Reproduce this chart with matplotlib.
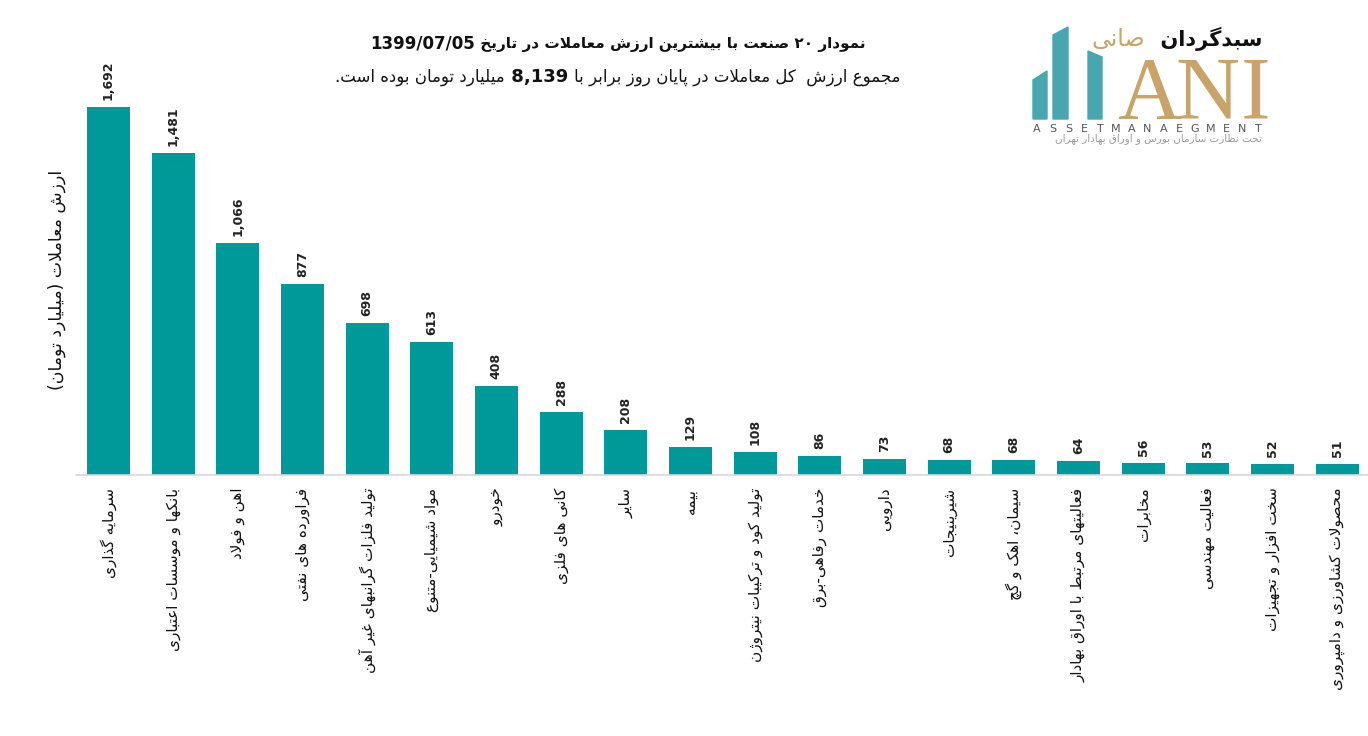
import re
import matplotlib
matplotlib.use("Agg")
import matplotlib.pyplot as plt
from matplotlib.patches import Polygon

# data
industries = [
    "سرمایه گذاری",
    "بانکها و موسسات اعتباری",
    "اهن و فولاد",
    "فراورده های نفتی",
    "تولید فلزات گرانبهای غیر آهن",
    "مواد شیمیایی-متنوع",
    "خودرو",
    "کانی های فلزی",
    "سایر",
    "بیمه",
    "تولید کود و ترکیبات نیتروژن",
    "خدمات رفاهی-برق",
    "دارویی",
    "شیرینیجات",
    "سیمان، اهک و گچ",
    "فعالیتهای مرتبط با اوراق بهادار",
    "مخابرات",
    "فعالیت مهندسی",
    "سخت افزار و تجهیزات",
    "محصولات کشاورزی و دامپروری",
]
values = [1692, 1481, 1066, 877, 698, 613, 408, 288, 208, 129,
          108, 86, 73, 68, 68, 64, 56, 53, 52, 51]
title_date = "1399/07/05"
total_value = "8,139"
ylabel_text = "ارزش معاملات (میلیارد تومان)"

BAR_COLOR = "#009999"
W, H = 1368, 736

# --- minimal arabic/persian shaping (matplotlib has no RTL support) ---
FORMS = {
    '\u0622': ('\uFE81', '\uFE82', None, None),
    '\u0623': ('\uFE83', '\uFE84', None, None),
    '\u0624': ('\uFE85', '\uFE86', None, None),
    '\u0625': ('\uFE87', '\uFE88', None, None),
    '\u0626': ('\uFE89', '\uFE8A', '\uFE8B', '\uFE8C'),
    '\u0627': ('\uFE8D', '\uFE8E', None, None),
    '\u0628': ('\uFE8F', '\uFE90', '\uFE91', '\uFE92'),
    '\u0629': ('\uFE93', '\uFE94', None, None),
    '\u062A': ('\uFE95', '\uFE96', '\uFE97', '\uFE98'),
    '\u062B': ('\uFE99', '\uFE9A', '\uFE9B', '\uFE9C'),
    '\u062C': ('\uFE9D', '\uFE9E', '\uFE9F', '\uFEA0'),
    '\u062D': ('\uFEA1', '\uFEA2', '\uFEA3', '\uFEA4'),
    '\u062E': ('\uFEA5', '\uFEA6', '\uFEA7', '\uFEA8'),
    '\u062F': ('\uFEA9', '\uFEAA', None, None),
    '\u0630': ('\uFEAB', '\uFEAC', None, None),
    '\u0631': ('\uFEAD', '\uFEAE', None, None),
    '\u0632': ('\uFEAF', '\uFEB0', None, None),
    '\u0633': ('\uFEB1', '\uFEB2', '\uFEB3', '\uFEB4'),
    '\u0634': ('\uFEB5', '\uFEB6', '\uFEB7', '\uFEB8'),
    '\u0635': ('\uFEB9', '\uFEBA', '\uFEBB', '\uFEBC'),
    '\u0636': ('\uFEBD', '\uFEBE', '\uFEBF', '\uFEC0'),
    '\u0637': ('\uFEC1', '\uFEC2', '\uFEC3', '\uFEC4'),
    '\u0638': ('\uFEC5', '\uFEC6', '\uFEC7', '\uFEC8'),
    '\u0639': ('\uFEC9', '\uFECA', '\uFECB', '\uFECC'),
    '\u063A': ('\uFECD', '\uFECE', '\uFECF', '\uFED0'),
    '\u0641': ('\uFED1', '\uFED2', '\uFED3', '\uFED4'),
    '\u0642': ('\uFED5', '\uFED6', '\uFED7', '\uFED8'),
    '\u0643': ('\uFED9', '\uFEDA', '\uFEDB', '\uFEDC'),
    '\u0644': ('\uFEDD', '\uFEDE', '\uFEDF', '\uFEE0'),
    '\u0645': ('\uFEE1', '\uFEE2', '\uFEE3', '\uFEE4'),
    '\u0646': ('\uFEE5', '\uFEE6', '\uFEE7', '\uFEE8'),
    '\u0647': ('\uFEE9', '\uFEEA', '\uFEEB', '\uFEEC'),
    '\u0648': ('\uFEED', '\uFEEE', None, None),
    '\u0649': ('\uFEEF', '\uFEF0', None, None),
    '\u064A': ('\uFEF1', '\uFEF2', '\uFEF3', '\uFEF4'),
    '\u067E': ('\uFB56', '\uFB57', '\uFB58', '\uFB59'),
    '\u0686': ('\uFB7A', '\uFB7B', '\uFB7C', '\uFB7D'),
    '\u0698': ('\uFB8A', '\uFB8B', None, None),
    '\u06A9': ('\uFB8E', '\uFB8F', '\uFB90', '\uFB91'),
    '\u06AF': ('\uFB92', '\uFB93', '\uFB94', '\uFB95'),
    '\u06CC': ('\uFBFC', '\uFBFD', '\uFBFE', '\uFBFF'),
}
LAM_ALEF = {'\u0627': ('\uFEFB', '\uFEFC'), '\u0622': ('\uFEF5', '\uFEF6'),
            '\u0623': ('\uFEF7', '\uFEF8'), '\u0625': ('\uFEF9', '\uFEFA')}
NUM = re.compile(r'[0-9\u06F0-\u06F9]+(?:[,./][0-9\u06F0-\u06F9]+)*')
MIRROR = str.maketrans('()', ')(')


def shape(s):
    out = []
    i, n = 0, len(s)
    while i < n:
        c = s[i]
        if c not in FORMS:
            if c != '\u200c':
                out.append(c)
            i += 1
            continue
        prev = s[i - 1] if i > 0 else ''
        joins_prev = prev in FORMS and FORMS[prev][2] is not None
        if c == '\u0644' and i + 1 < n and s[i + 1] in LAM_ALEF:
            out.append(LAM_ALEF[s[i + 1]][1 if joins_prev else 0])
            i += 2
            continue
        nxt = s[i + 1] if i + 1 < n else ''
        iso, fin, ini, med = FORMS[c]
        joins_next = ini is not None and nxt in FORMS
        if joins_prev and joins_next:
            out.append(med)
        elif joins_prev:
            out.append(fin)
        elif joins_next:
            out.append(ini)
        else:
            out.append(iso)
        i += 1
    return ''.join(out)


def fa(s):
    # shape, then lay out right-to-left keeping numbers left-to-right
    s = shape(s)
    parts, pos = [], 0
    for m in NUM.finditer(s):
        parts.append(s[pos:m.start()][::-1].translate(MIRROR))
        parts.append(m.group())
        pos = m.end()
    parts.append(s[pos:][::-1].translate(MIRROR))
    return ''.join(reversed(parts))


fig = plt.figure(figsize=(W / 100, H / 100), dpi=100)
renderer = fig.canvas.get_renderer()


def draw_line(segments, x, y, align="center"):
    # segments in visual (left to right) order: (text, weight, size, color, family)
    texts = []
    for s, weight, size, color, family in segments:
        t = fig.text(0, 1 - y / H, s, fontsize=size, fontweight=weight, color=color,
                     family=family, ha="left", va="baseline")
        texts.append(t)
    widths = [t.get_window_extent(renderer).width for t in texts]
    total = sum(widths)
    start = x - total / 2 if align == "center" else x - total
    for t, w in zip(texts, widths):
        t.set_x(start / W)
        start += w


# --- bars ---
ax = fig.add_axes([76 / W, 1 - 475 / H, 1293.6 / W, (475 - 83.5) / H])
pos = list(range(len(values)))
bars = ax.bar(pos, values, width=0.665, color=BAR_COLOR)
ax.set_xlim(-0.5, len(values) - 0.5)
ax.set_ylim(0, 1800)
for rect, v in zip(bars, values):
    ax.annotate(f"{v:,}", (rect.get_x() + rect.get_width() / 2, v),
                xytext=(0, 5), textcoords="offset points", rotation=90,
                ha="center", va="bottom", fontsize=9, fontweight="bold", color="#222222")
ax.set_xticks(pos)
ax.set_xticklabels([fa(t) for t in industries], rotation=90, fontsize=11, color="#111111")
ax.tick_params(axis="x", length=0, pad=9)
ax.set_yticks([])
for side in ["top", "right", "left"]:
    ax.spines[side].set_visible(False)
ax.spines["bottom"].set_color("#d9d9d9")
ax.spines["bottom"].set_linewidth(1.2)

fig.text(57 / W, 1 - 280 / H, fa(ylabel_text), rotation=90, ha="center", va="center",
         fontsize=12.5, color="#111111")

# --- title ---
sans = "DejaVu Sans"
draw_line([
    (title_date, "bold", 12, "#111111", sans),
    (" " + fa("نمودار ۲۰ صنعت با بیشترین ارزش معاملات در تاریخ"), "bold", 11, "#111111", sans),
], 618, 48)
draw_line([
    (fa("میلیارد تومان بوده است."), "normal", 12, "#111111", sans),
    (" " + total_value + " ", "bold", 13, "#111111", sans),
    (fa("مجموع ارزش  کل معاملات در پایان روز برابر با"), "normal", 12, "#111111", sans),
], 618, 82)

# --- logo ---
def px(x, y):
    return (x / W, 1 - y / H)


logo_bars = [
    [(1033, 80), (1047, 71), (1047, 119), (1033, 119)],
    [(1053, 35), (1068, 27), (1068, 119), (1053, 119)],
    [(1088, 51), (1102, 57), (1102, 119), (1088, 119)],
]
for poly in logo_bars:
    fig.patches.append(Polygon([px(*p) for p in poly], closed=True, color="#47a6b0",
                               transform=fig.transFigure, figure=fig))

gold = "#c9a468"
for letter, cx in zip("ANI", [1149, 1208, 1256]):
    fig.text(cx / W, 1 - 118 / H, letter, fontsize=64, family="Liberation Serif",
             color=gold, ha="center", va="baseline")
draw_line([
    (fa("صانی"), "normal", 17, gold, sans),
    ("  " + fa("سبدگردان"), "bold", 15, "#111111", sans),
], 1262, 46, align="right")
brand = "ASSETMANAEGMENT"
for k, ch in enumerate(brand):
    cx = 1037 + k * (1258 - 1037) / (len(brand) - 1)
    fig.text(cx / W, 1 - 128.5 / H, ch, fontsize=8, color="#555555",
             ha="center", va="center")
fig.text(1262 / W, 1 - 139 / H, fa("تحت نظارت سازمان بورس و اوراق بهادار تهران"),
         fontsize=7.5, color="#9a9a9a", ha="right", va="center")

fig.savefig("out.png", dpi=100)
